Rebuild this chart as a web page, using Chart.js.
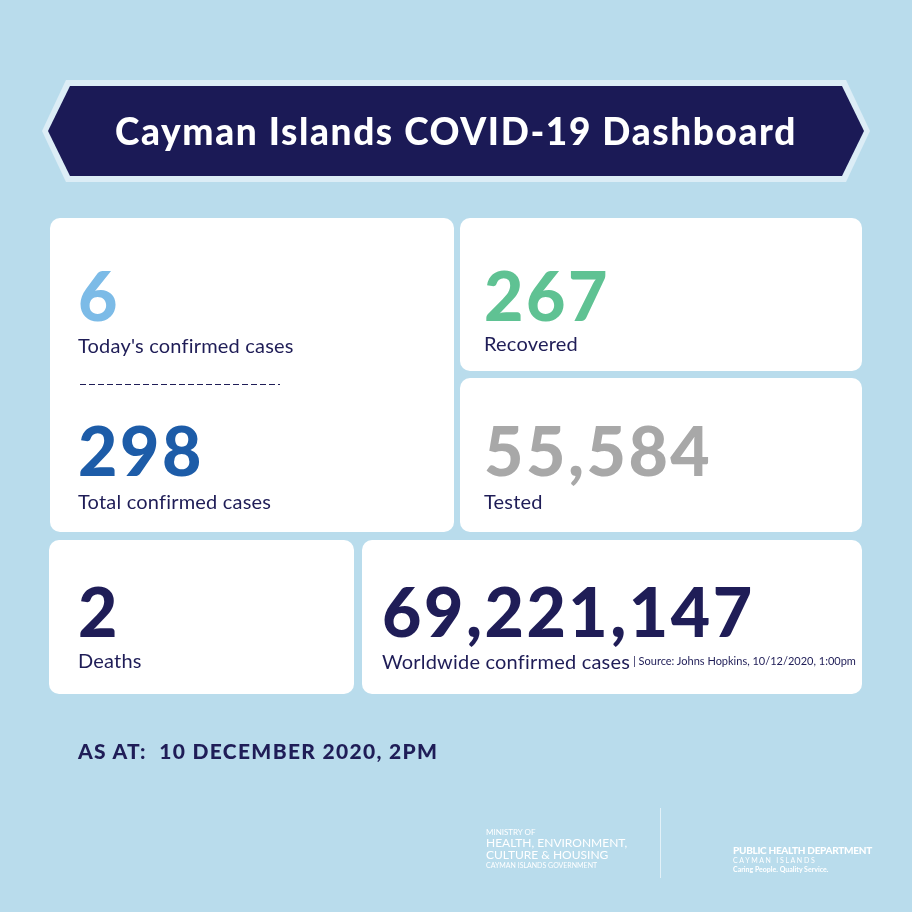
<!DOCTYPE html>
<html><head><meta charset="utf-8">
<script src="https://cdn.jsdelivr.net/npm/chart.js@4"></script>
<style>
html,body{margin:0;padding:0;background:#b9dcec;}
#wrap{position:relative;width:912px;height:912px;font-family:Lato,"Open Sans",sans-serif;color:#1f1d57;}
canvas{position:absolute;left:0;top:0;}
.t{position:absolute;white-space:pre;line-height:1;}
</style></head><body>
<div id="wrap"><canvas id="c" width="912" height="912"></canvas></div>
<script>
const title = "Cayman Islands COVID-19 Dashboard";
const statLabels = ["Today's confirmed cases","Total confirmed cases","Recovered","Tested","Deaths","Worldwide confirmed cases"];
const statValues = ["6","298","267","55,584","2","69,221,147"];
const statColors = ["#7cbbe7","#1d5ca8","#5fc293","#a8a8a8","#1f1d57","#1f1d57"];
const sourceNote = "| Source: Johns Hopkins, 10/12/2020, 1:00pm";
const asAt = "AS AT:  10 DECEMBER 2020, 2PM";

const cards = [[50,218,454,532],[460,218,862,371],[460,378,862,532],[49,540,354,694],[362,540,862,694]];
function rr(ctx,x0,y0,x1,y1,r){ctx.beginPath();ctx.moveTo(x0+r,y0);ctx.arcTo(x1,y0,x1,y1,r);ctx.arcTo(x1,y1,x0,y1,r);ctx.arcTo(x0,y1,x0,y0,r);ctx.arcTo(x0,y0,x1,y0,r);ctx.closePath();}
const deco = {id:'deco',beforeDraw(ch){
  const ctx=ch.ctx;ctx.save();
  ctx.fillStyle='#b9dcec';ctx.fillRect(0,0,912,912);
  ctx.fillStyle='#dcedf6';ctx.beginPath();
  ctx.moveTo(66,80);ctx.lineTo(846,80);ctx.lineTo(870,131);ctx.lineTo(846,182);ctx.lineTo(66,182);ctx.lineTo(42,131);ctx.closePath();ctx.fill();
  ctx.fillStyle='#1b1a56';ctx.beginPath();
  ctx.moveTo(70,86);ctx.lineTo(842,86);ctx.lineTo(864,131);ctx.lineTo(842,176);ctx.lineTo(70,176);ctx.lineTo(48,131);ctx.closePath();ctx.fill();
  ctx.fillStyle='#fff';
  cards.forEach(c=>{rr(ctx,c[0],c[1],c[2],c[3],10);ctx.fill();});
  ctx.strokeStyle='#1f1d57';ctx.lineWidth=1;ctx.setLineDash([6,3]);
  ctx.beginPath();ctx.moveTo(80,384.5);ctx.lineTo(280,384.5);ctx.stroke();ctx.setLineDash([]);
  ctx.strokeStyle='#e3f1f8';ctx.beginPath();ctx.moveTo(660.5,808);ctx.lineTo(660.5,878);ctx.stroke();
  ctx.restore();
}};
new Chart(document.getElementById('c'),{type:'bar',data:{labels:[],datasets:[]},
  options:{responsive:false,animation:false,events:[],plugins:{legend:{display:false},tooltip:{enabled:false}},scales:{x:{display:false},y:{display:false}}},
  plugins:[deco]});

const wrap=document.getElementById('wrap');
function add(txt,x,y,style){const d=document.createElement('div');d.className='t';d.textContent=txt;d.style.left=x+'px';d.style.top=y+'px';Object.assign(d.style,style||{});wrap.appendChild(d);return d;}
add(title,0,112,{width:'912px',textAlign:'center',color:'#fff',fontWeight:'900',fontSize:'37px',letterSpacing:'1.6px'});
const pos=[[78,261,78,335],[78,416,78,491],[484,261,484,333],[484,416,484,491],[78,577,78,650],[382,577,382,651]];
let last;
statValues.forEach((v,i)=>{
  add(v,pos[i][0],pos[i][1],{color:statColors[i],fontWeight:'900',fontSize:'68px',letterSpacing:'2.5px'});
  last=add(statLabels[i],pos[i][2],pos[i][3],{fontSize:'20px',color:'#1f1d57',letterSpacing:'0.2px'});
});
add(sourceNote,382+last.offsetWidth+3,655,{fontSize:'11px',color:'#1f1d57'});
add(asAt,78,740,{fontSize:'21px',fontWeight:'900',color:'#1f1d57',letterSpacing:'1.3px'});
add("MINISTRY OF",486,828,{fontSize:'8px',color:'#fff'});
add("HEALTH, ENVIRONMENT,",486,837,{fontSize:'12px',color:'#fff'});
add("CULTURE & HOUSING",486,849,{fontSize:'12px',color:'#fff'});
add("CAYMAN ISLANDS GOVERNMENT",486,862,{fontSize:'7px',color:'#fff'});
add("PUBLIC HEALTH DEPARTMENT",733,845,{fontSize:'10px',fontWeight:'900',color:'#fff',letterSpacing:'-0.3px'});
add("C A Y M A N   I S L A N D S",733,857,{fontSize:'7px',color:'#fff'});
add("Caring People. Quality Service.",733,866,{fontSize:'7px',fontWeight:'700',color:'#fff'});
</script></body></html>
